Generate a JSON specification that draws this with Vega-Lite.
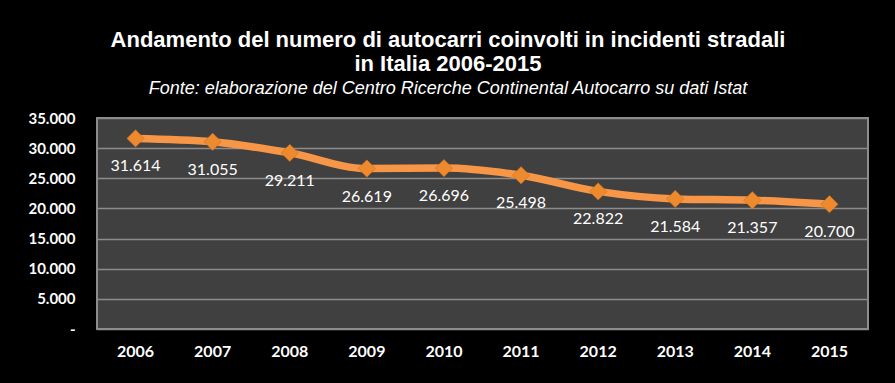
{
  "$schema": "https://vega.github.io/schema/vega-lite/v6.json",
  "width": 771,
  "height": 211,
  "autosize": {"type": "none"},
  "padding": {"left": 97, "top": 118, "right": 27, "bottom": 54},
  "background": "#000000",
  "config": {
    "locale": {"number": {"decimal": ",", "thousands": ".", "grouping": [3], "currency": ["€", ""]}},
    "view": {"fill": "#404040", "stroke": "#8c8c8c", "strokeWidth": 2}
  },
  "title": {
    "text": ["Andamento del numero di autocarri coinvolti in incidenti stradali", "in Italia 2006-2015"],
    "subtitle": "Fonte: elaborazione del Centro Ricerche Continental Autocarro su dati Istat",
    "anchor": "middle",
    "frame": "bounds",
    "font": "Liberation Sans",
    "fontSize": 22,
    "fontWeight": "bold",
    "color": "#ffffff",
    "lineHeight": 24,
    "subtitleFont": "Liberation Sans",
    "subtitleFontSize": 18,
    "subtitleFontStyle": "italic",
    "subtitleColor": "#ffffff",
    "subtitlePadding": 4,
    "offset": 12
  },
  "data": {
    "values": [
      {"anno": "2006", "autocarri": 31614},
      {"anno": "2007", "autocarri": 31055},
      {"anno": "2008", "autocarri": 29211},
      {"anno": "2009", "autocarri": 26619},
      {"anno": "2010", "autocarri": 26696},
      {"anno": "2011", "autocarri": 25498},
      {"anno": "2012", "autocarri": 22822},
      {"anno": "2013", "autocarri": 21584},
      {"anno": "2014", "autocarri": 21357},
      {"anno": "2015", "autocarri": 20700}
    ]
  },
  "encoding": {
    "x": {
      "field": "anno",
      "type": "ordinal",
      "scale": {"type": "band", "paddingInner": 0, "paddingOuter": 0},
      "axis": {
        "title": null,
        "labelAngle": 0,
        "domain": false,
        "ticks": false,
        "labelFont": "Lato",
        "labelFontWeight": "bold",
        "labelFontSize": 16,
        "labelColor": "#ffffff",
        "labelPadding": 14
      }
    },
    "y": {
      "field": "autocarri",
      "type": "quantitative",
      "scale": {"domain": [0, 35000], "nice": false},
      "axis": {
        "title": null,
        "values": [0, 5000, 10000, 15000, 20000, 25000, 30000, 35000],
        "format": ",d",
        "labelExpr": "datum.value == 0 ? '-\u00a0\u00a0\u00a0' : datum.label",
        "domain": false,
        "ticks": false,
        "grid": true,
        "gridColor": "#8c8c8c",
        "gridWidth": 1.5,
        "labelFont": "Lato",
        "labelFontWeight": "bold",
        "labelFontSize": 15,
        "labelColor": "#ffffff",
        "labelPadding": 22
      }
    }
  },
  "layer": [
    {
      "mark": {"type": "line", "interpolate": "monotone", "color": "#F79646", "strokeWidth": 7.5, "strokeCap": "round"}
    },
    {
      "mark": {"type": "point", "shape": "diamond", "filled": true, "size": 300, "color": "#EE8A2E", "opacity": 1, "stroke": "#C8681A", "strokeWidth": 0.5}
    },
    {
      "mark": {"type": "text", "dy": 28, "font": "Lato", "fontSize": 16, "color": "#ffffff", "baseline": "middle"},
      "encoding": {"text": {"field": "autocarri", "type": "quantitative", "format": ",d"}}
    }
  ]
}
